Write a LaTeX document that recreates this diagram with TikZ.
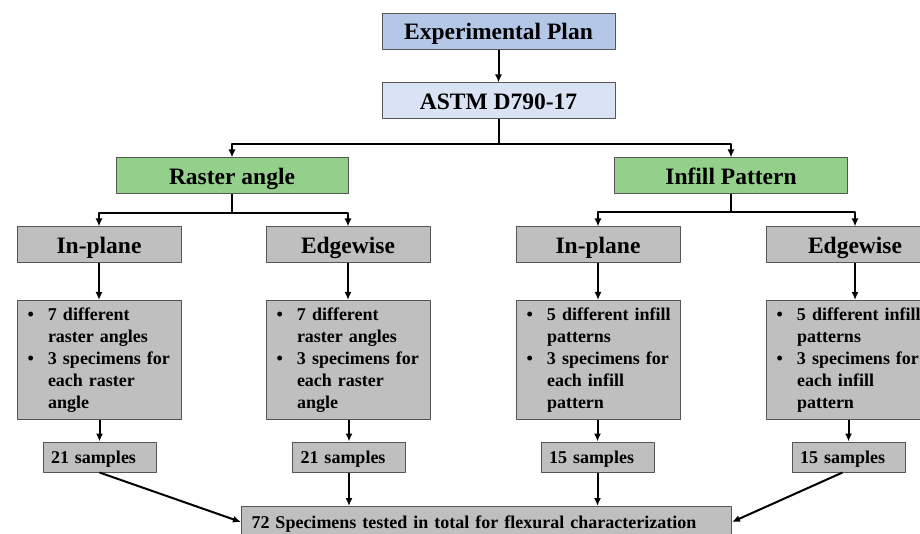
\documentclass[tikz,border=0pt]{standalone}
\usepackage{fontspec}
\setmainfont{Liberation Serif}
\usepackage{xcolor}
\usetikzlibrary{arrows.meta}

\definecolor{planblue}{RGB}{180,199,231}
\definecolor{astmblue}{RGB}{218,227,243}
\definecolor{catgreen}{RGB}{148,208,140}
\definecolor{boxgray}{RGB}{191,191,191}
\definecolor{edgegray}{RGB}{85,85,85}

\newcommand{\bulletrow}[1]{\makebox[23.5pt][l]{\hspace*{3pt}\textbullet}#1}
\newcommand{\restrow}[1]{\hspace*{23.5pt}#1}

\begin{document}
\begin{tikzpicture}[x=1pt, y=-1pt, >={Latex[length=8pt,width=7pt]}, line join=round,
    box/.style={draw=edgegray, line width=1pt, inner sep=0pt,
        font=\fontsize{23.5}{28}\selectfont\bfseries},
    headbox/.style={box, minimum width=233pt, minimum height=36pt,
        text height=19pt, text depth=2pt},
    catbox/.style={headbox, fill=catgreen, minimum width=232pt},
    viewbox/.style={headbox, fill=boxgray, minimum width=164pt},
    listbox/.style={box, fill=boxgray, anchor=north west, minimum height=119pt,
        text width=150pt, inner xsep=7pt, align=left,
        font=\fontsize{18}{22}\selectfont\bfseries},
    samplebox/.style={box, fill=boxgray, minimum height=30pt, text width=97pt,
        inner xsep=8pt, align=left, text height=14pt, text depth=2pt,
        font=\fontsize{18}{22}\selectfont\bfseries},
    conn/.style={line width=2pt, black}]

    \useasboundingbox (0,0) rectangle (920,534);
    \clip (0,0) rectangle (920,534);

    % --- Top of the plan ---
    \node[headbox, fill=planblue] (plan) at (498.5,31.5) {Experimental Plan};
    \node[headbox, fill=astmblue] (astm) at (498.5,101) {ASTM D790-17};

    % --- Two studied parameters ---
    \node[catbox] (raster) at (232,176) {Raster angle};
    \node[catbox, minimum width=233pt] (infill) at (731,176) {Infill Pattern};

    % --- Build orientations ---
    \node[viewbox] (inA) at (99,245) {In-plane};
    \node[viewbox] (edA) at (348,245) {Edgewise};
    \node[viewbox] (inB) at (598,245) {In-plane};
    \node[viewbox, minimum width=178pt] (edB) at (855,245) {Edgewise};

    % --- Test matrix of each branch ---
    \node[listbox] (listA) at (17,300) {\bulletrow{7 different}\\
        \restrow{raster angles}\\ \bulletrow{3 specimens for}\\
        \restrow{each raster}\\ \restrow{angle}};
    \node[listbox] (listB) at (266,300) {\bulletrow{7 different}\\
        \restrow{raster angles}\\ \bulletrow{3 specimens for}\\
        \restrow{each raster}\\ \restrow{angle}};
    \node[listbox] (listC) at (516,300) {\bulletrow{5 different infill}\\
        \restrow{patterns}\\ \bulletrow{3 specimens for}\\
        \restrow{each infill}\\ \restrow{pattern}};
    \node[listbox, text width=164pt] (listD) at (766,300) {\bulletrow{5 different infill}\\
        \restrow{patterns}\\ \bulletrow{3 specimens for}\\
        \restrow{each infill}\\ \restrow{pattern}};

    % --- Sample counts ---
    \node[samplebox] (sampA) at (99.5,457) {21 samples};
    \node[samplebox] (sampB) at (349,457) {21 samples};
    \node[samplebox] (sampC) at (597.5,457) {15 samples};
    \node[samplebox] (sampD) at (848.5,457) {15 samples};

    \node[samplebox, anchor=west, minimum height=31pt, text width=470pt,
        inner xsep=10pt] (total) at (241,522)
        {72 Specimens tested in total for flexural characterization};

    % --- Connectors ---
    \draw[conn, ->] (plan) -- (astm);
    \draw[conn] (astm.south) -- ++(0,25) coordinate (busTop);
    \draw[conn, ->] (busTop) -| (raster.north);
    \draw[conn, ->] (busTop) -| (infill.north);

    \draw[conn] (raster.south) -- ++(0,19) coordinate (busRaster);
    \draw[conn, ->] (busRaster) -| (inA.north);
    \draw[conn, ->] (busRaster) -| (edA.north);
    \draw[conn] (infill.south) -- ++(0,18) coordinate (busInfill);
    \draw[conn, ->] (busInfill) -| (inB.north);
    \draw[conn, ->] (busInfill) -| (edB.north);

    \draw[conn, ->] (inA) -- (inA |- listA.north);
    \draw[conn, ->] (edA) -- (edA |- listB.north);
    \draw[conn, ->] (inB) -- (inB |- listC.north);
    \draw[conn, ->] (edB) -- (edB |- listD.north);

    \draw[conn, ->] (listA.south -| sampA.north) -- (sampA.north);
    \draw[conn, ->] (listB.south -| sampB.north) -- (sampB.north);
    \draw[conn, ->] (listC.south -| sampC.north) -- (sampC.north);
    \draw[conn, ->] (listD.south -| sampD.north) -- (sampD.north);

    \draw[conn, ->] (sampA.south) -- (total.west);
    \draw[conn, ->] (sampB.south) -- (sampB.south |- total.north);
    \draw[conn, ->] (sampC.south) -- (sampC.south |- total.north);
    \draw[conn, ->] ([xshift=-6pt]sampD.south) -- (total.east);

\end{tikzpicture}
\end{document}
